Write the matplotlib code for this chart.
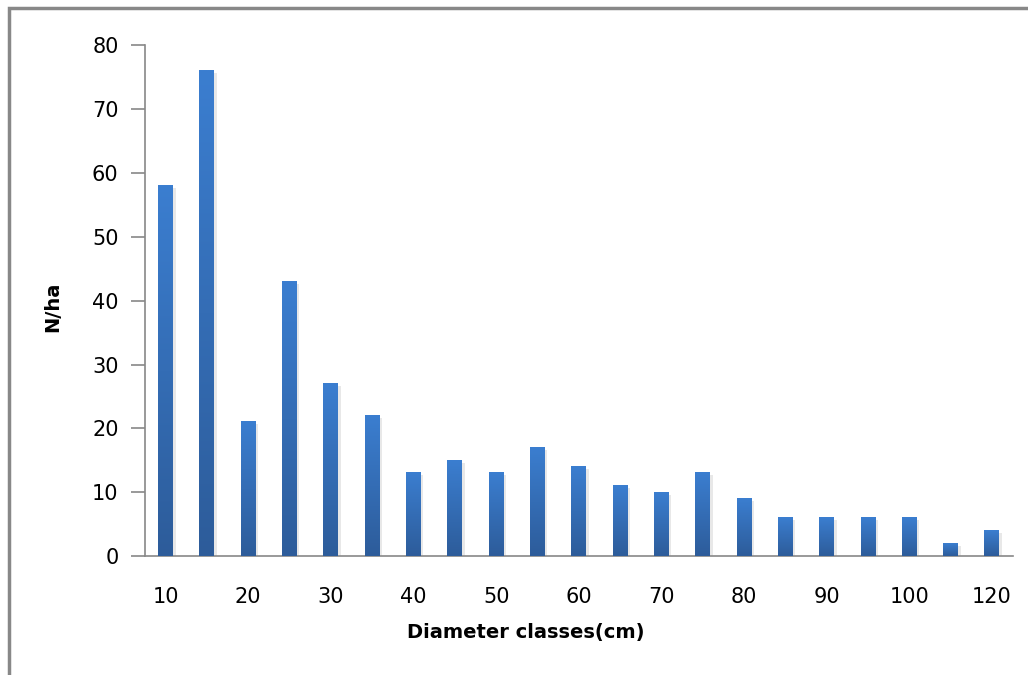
import matplotlib
matplotlib.use('Agg')
import matplotlib.pyplot as plt
from matplotlib.colors import LinearSegmentedColormap
from matplotlib.patches import Rectangle
import numpy as np

# Классы диаметров и число деревьев на гектар
classes = [10, 15, 20, 25, 30, 35, 40, 45, 50, 55, 60, 65, 70, 75, 80, 85, 90, 95, 100, 110, 120]
n_per_ha = [58, 76, 21, 43, 27, 22, 13, 15, 13, 17, 14, 11, 10, 13, 9, 6, 6, 6, 6, 2, 4]
y_ticks = [0, 10, 20, 30, 40, 50, 60, 70, 80]

fig = plt.figure(figsize=(10.28, 6.75), dpi=100)
ax = fig.add_axes([0.141, 0.176, 0.844, 0.757])

x = np.arange(len(classes))
width = 0.36

# Тень под столбцами
ax.bar(x + 0.06, n_per_ha, width, bottom=-0.35, color='#bfbfbf', alpha=0.35, zorder=1, linewidth=0)
bars = ax.bar(x, n_per_ha, width, color='#3a7bcb', zorder=2, linewidth=0)

# Градиент внутри каждого столбца (светлее сверху)
cmap = LinearSegmentedColormap.from_list('bar_grad', ['#2d5c9a', '#3b7ed0'])
grad = np.linspace(0, 1, 256).reshape(-1, 1)
for b in bars:
    x0, y0 = b.get_x(), b.get_y()
    w, h = b.get_width(), b.get_height()
    ax.imshow(grad, cmap=cmap, origin='lower', aspect='auto',
              extent=(x0, x0 + w, y0, y0 + h), zorder=3)

ax.set_xlim(-0.5, len(classes) - 0.5)
ax.set_ylim(0, 80)
ax.set_yticks(y_ticks)
ax.set_yticklabels([str(v) for v in y_ticks])
ax.set_xticks(x[::2])
ax.set_xticklabels([str(c) for c in classes[::2]])

for s in ['top', 'right']:
    ax.spines[s].set_visible(False)
for s in ['left', 'bottom']:
    ax.spines[s].set_color('#888888')
    ax.spines[s].set_linewidth(1.2)
ax.tick_params(axis='y', direction='out', length=10, width=1.2, color='#888888', labelsize=15, pad=9)
ax.tick_params(axis='x', length=0, labelsize=15, pad=22)

ax.set_xlabel('Diameter classes(cm)', fontsize=14, fontweight='bold')
ax.xaxis.set_label_coords(0.439, -0.131)
ax.set_ylabel('N/ha', fontsize=14, fontweight='bold')
ax.yaxis.set_label_coords(-0.0956, 0.489)

# Рамка области диаграммы
fig.patches.append(Rectangle((0.009, -0.1), 1.2, 1.088, transform=fig.transFigure,
                             fill=False, edgecolor='#888888', linewidth=2.5))

fig.savefig('out.png', dpi=100, facecolor='white')
